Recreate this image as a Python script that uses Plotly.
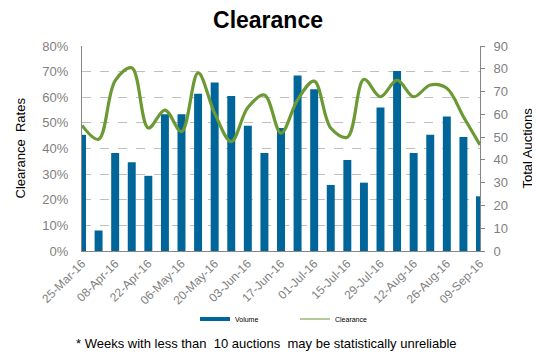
import plotly.graph_objects as go

weeks = ["25-Mar-16", "01-Apr-16", "08-Apr-16", "15-Apr-16", "22-Apr-16", "29-Apr-16",
         "06-May-16", "13-May-16", "20-May-16", "27-May-16", "03-Jun-16", "10-Jun-16",
         "17-Jun-16", "24-Jun-16", "01-Jul-16", "08-Jul-16", "15-Jul-16", "22-Jul-16",
         "29-Jul-16", "05-Aug-16", "12-Aug-16", "19-Aug-16", "26-Aug-16", "02-Sep-16",
         "09-Sep-16"]
volume = [51, 9, 43, 39, 33, 60, 60, 69, 74, 68, 55, 43, 54, 77, 71, 29, 40, 30,
          63, 79, 43, 51, 59, 50, 24]
clearance = [49, 43.6, 66.5, 71.5, 48, 55, 46.6, 69.5, 53.7, 42.7, 56, 60.9, 46,
             59, 66.3, 48, 44.4, 67, 60.2, 66.7, 60.2, 64.8, 63.5, 52.4, 41.4]

idx = list(range(len(weeks)))
tick_idx = idx[::2]
tick_text = [weeks[i] for i in tick_idx]

BLUE = "#006699"
GREEN = "#6B9A35"
GRAY = "#7F7F7F"
FONT = "Liberation Sans, Arial, sans-serif"

# page body has an 8px margin, so figure is 532x351 and coordinates are offset by 8
OFF = 8
# plot area in reference pixels: x 82..480, y 46..251
PW, PH = 398, 205
L, T = 82 - OFF, 46 - OFF

fig = go.Figure()
fig.add_trace(go.Bar(x=idx, y=volume, yaxis="y", marker_color=BLUE,
                     marker_line_width=0, showlegend=False, name="Volume"))
fig.add_trace(go.Scatter(x=idx, y=clearance, yaxis="y2", mode="lines",
                         line=dict(color=GREEN, width=3.2, shape="spline", smoothing=1),
                         showlegend=False, name="Clearance"))
# legend-only entries
fig.add_trace(go.Scatter(x=[None], y=[None], mode="lines", name="Volume",
                         line=dict(color=BLUE, width=4)))
fig.add_trace(go.Scatter(x=[None], y=[None], mode="lines", name="Clearance",
                         line=dict(color=GREEN, width=1)))

W, H = 540 - OFF, 359 - OFF
fig.update_layout(
    width=W, height=H,
    margin=dict(l=L, r=W - L - PW, t=T, b=H - T - PH, autoexpand=False),
    paper_bgcolor="white", plot_bgcolor="white",
    font=dict(family=FONT, color=GRAY, size=12),
    bargap=0.52,
    title=dict(text="<b>Clearance</b>", x=(268 - OFF) / W, xanchor="center",
               y=1 - (20 - OFF) / H,
               yanchor="middle", font=dict(size=23, color="black", family=FONT)),
    xaxis=dict(range=[0, 24], tickmode="array", tickvals=tick_idx, ticktext=tick_text,
               tickangle=-45, showgrid=False, zeroline=False, showline=True,
               linecolor="#868686", linewidth=1, ticks="",
               tickfont=dict(size=12, color=GRAY)),
    yaxis=dict(side="right", range=[0, 90], dtick=10, showgrid=False, zeroline=False,
               showline=True, linecolor="#868686", linewidth=1, ticks="outside",
               ticklen=4, tickcolor="#868686", ticklabelstandoff=6,
               tickfont=dict(size=13, color=GRAY)),
    yaxis2=dict(side="left", overlaying="y", range=[0, 80], dtick=10,
                ticksuffix="%", showgrid=True, gridcolor="#BFBFBF", griddash="dash",
                gridwidth=1, zeroline=False, showline=True, linecolor="#868686",
                linewidth=1, ticks="", ticklabelstandoff=10,
                tickfont=dict(size=13, color=GRAY)),
    legend=dict(orientation="h", x=(195 - 82) / PW, xanchor="left",
                y=(251 - 319) / PH, yanchor="middle",
                font=dict(size=7, color="black"), itemwidth=30,
                entrywidth=55, entrywidthmode="pixels",
                bgcolor="rgba(0,0,0,0)"),
    annotations=[
        dict(text="Clearance  Rates", xref="paper", yref="paper",
             x=(20 - 82) / PW, y=0.5,
             xanchor="center", yanchor="middle", textangle=-90, showarrow=False,
             font=dict(size=13, color="black", family=FONT)),
        dict(text="Total Auctions", xref="paper", yref="paper",
             x=(527 - 82) / PW, y=0.5,
             xanchor="center", yanchor="middle", textangle=-90, showarrow=False,
             font=dict(size=13, color="black", family=FONT)),
        dict(text="* Weeks with less than  10 auctions  may be statistically unreliable",
             xref="paper", yref="paper", x=(266 - 82) / PW, y=(251 - 343) / PH,
             xanchor="center", yanchor="middle", showarrow=False,
             font=dict(size=13, color="black", family=FONT)),
    ],
)

fig.write_html("out.html")
